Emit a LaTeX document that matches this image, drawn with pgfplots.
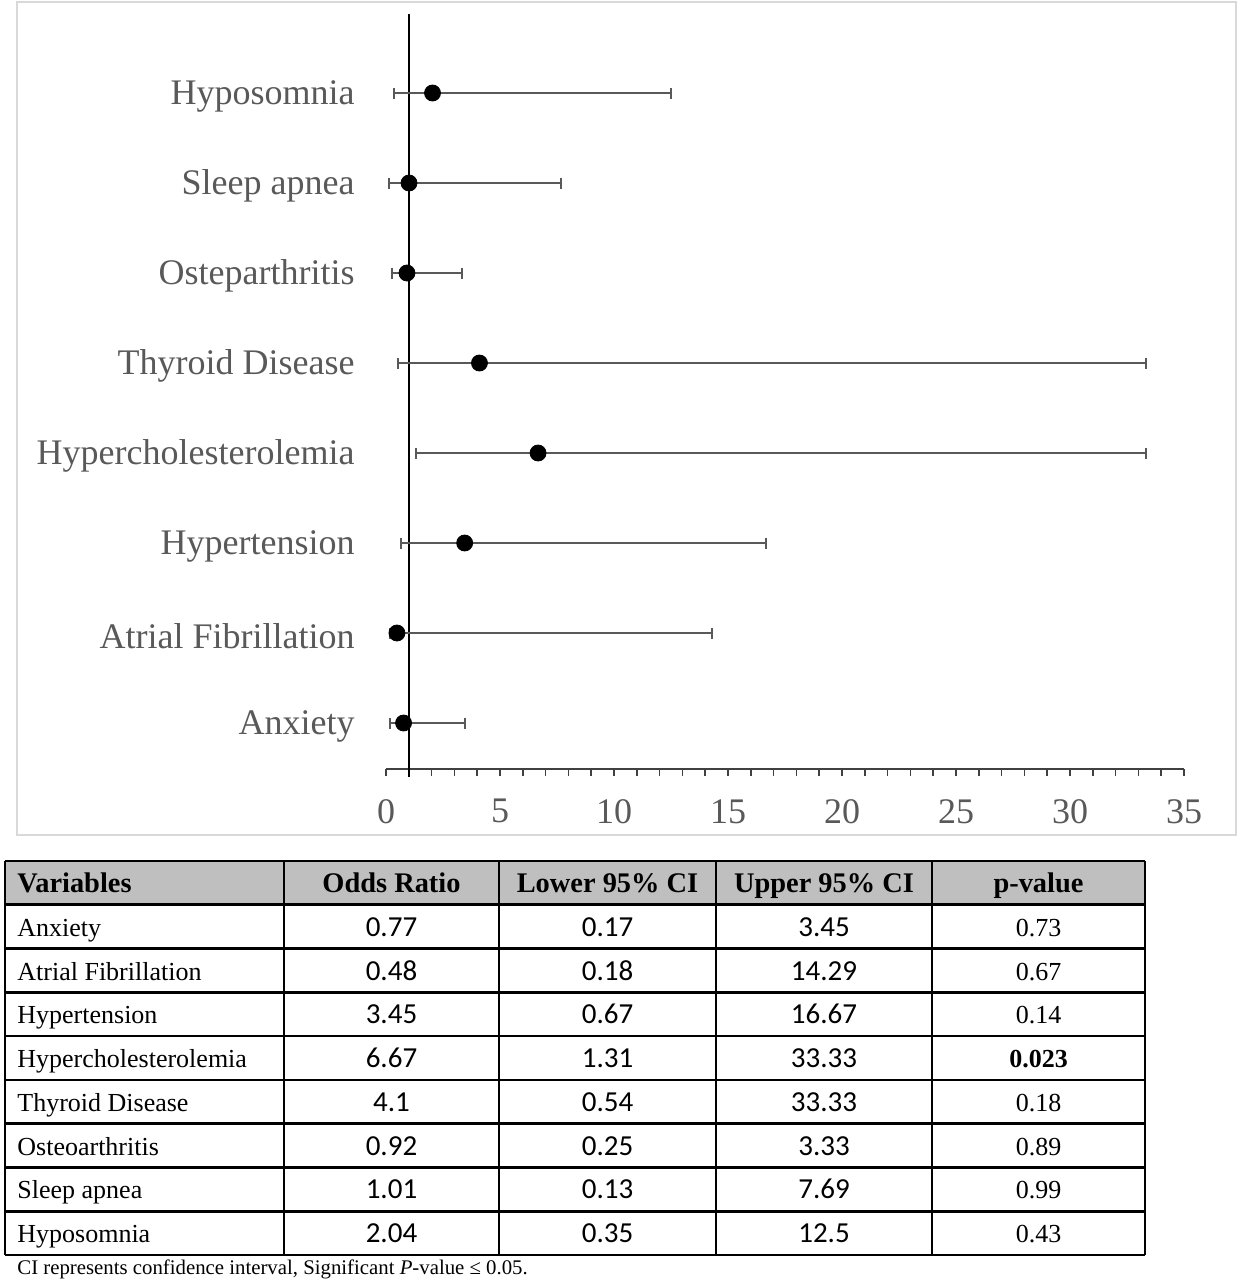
\documentclass[border=0pt]{standalone}
\usepackage{pgfplots}
\pgfplotsset{compat=1.18}
\usepackage{fontspec}
\setmainfont{Liberation Serif}
\newfontfamily\calibri{Carlito}
\definecolor{txtgray}{HTML}{595959}
\definecolor{framegray}{HTML}{D9D9D9}
\definecolor{hdrgray}{HTML}{BFBFBF}
\begin{document}
\begin{tikzpicture}
\useasboundingbox (0,0) rectangle (619pt,640pt);
\draw[framegray, line width=1pt] (8.5pt,222.5pt) rectangle (618pt,639pt);
\begin{axis}[
  at={(193pt,255.5pt)}, anchor=south west,
  scale only axis, width=399pt, height=377.5pt,
  xmin=0, xmax=35, ymin=0.489, ymax=8.878,
  clip=false,
  axis x line*=bottom, axis y line*=left,
  y axis line style={draw=none},
  x axis line style={black!75, line width=0.8pt},
  xtick={0,5,...,35}, minor x tick num=4,
  tick align=outside,
  major tick length=3.5pt, minor tick length=3.5pt,
  xtick style={black!75, line width=0.8pt},
  minor x tick style={black!75, line width=0.8pt},
  ytick={1,...,8},
  yticklabels={Anxiety, Atrial Fibrillation, Hypertension, Hypercholesterolemia, Thyroid Disease, Osteparthritis, Sleep apnea, Hyposomnia},
  ytick style={draw=none},
  /pgf/number format/assume math mode=true,
  ticklabel style={font=\fontsize{18}{20}\selectfont, text=txtgray, inner sep=0pt},
  yticklabel style={yshift=-1.5pt},
  xticklabel shift=11.5pt,
  yticklabel shift=12pt,
]
\addplot[black, line width=0.8pt, no marks] coordinates {(1,0.4) (1,8.878)};
\addplot[only marks, mark=*, mark size=4pt, black,
  error bars/.cd, x dir=both, x explicit,
  error bar style={txtgray, line width=1pt},
  error mark=|,
  error mark options={txtgray, line width=1pt, mark size=2.75pt}]
  coordinates {
  (0.77,1) -= (0.60,0) += (2.68,0)
  (0.48,2) -= (0.30,0) += (13.81,0)
  (3.45,3) -= (2.78,0) += (13.22,0)
  (6.67,4) -= (5.36,0) += (26.66,0)
  (4.1,5) -= (3.56,0) += (29.23,0)
  (0.92,6) -= (0.67,0) += (2.41,0)
  (1.01,7) -= (0.88,0) += (6.68,0)
  (2.04,8) -= (1.69,0) += (10.46,0)
  };
\end{axis}
% table
\begin{scope}[x=1pt, y=1pt]
\fill[hdrgray] (2.5,187.61) rectangle (572.5,209.5);
\foreach \k in {0,...,9} {
  \draw[black, line width=1.3pt] (2.5,{209.5-\k*21.89}) -- (572.5,{209.5-\k*21.89});
}
\foreach \cx in {2.5,142,249.5,358,466,572.5} {
  \draw[black, line width=1.3pt] (\cx,209.5) -- (\cx,12.5);
}
\begin{scope}[every node/.style={inner sep=0pt, anchor=base}]
\node[anchor=base west] at (8.5,193.75) {\fontsize{14.2}{16}\selectfont\bfseries Variables};
\node at (195.75,193.75) {\fontsize{14.2}{16}\selectfont\bfseries Odds Ratio};
\node at (303.75,193.75) {\fontsize{14.2}{16}\selectfont\bfseries Lower 95\% CI};
\node at (412,193.75) {\fontsize{14.2}{16}\selectfont\bfseries Upper 95\% CI};
\node at (519.25,193.75) {\fontsize{14.2}{16}\selectfont\bfseries p-value};
\foreach \nm/\a/\b/\c/\p [count=\i] in {Anxiety/0.77/0.17/3.45/0.73, Atrial Fibrillation/0.48/0.18/14.29/0.67, Hypertension/3.45/0.67/16.67/0.14, Hypercholesterolemia/6.67/1.31/33.33/{\bfseries 0.023}, Thyroid Disease/4.1/0.54/33.33/0.18, Osteoarthritis/0.92/0.25/3.33/0.89, Sleep apnea/1.01/0.13/7.69/0.99, Hyposomnia/2.04/0.35/12.5/0.43} {
  \pgfmathsetmacro{\yb}{209.5-(\i+0.5)*21.89-4.8}
  \node[anchor=base west] at (8.5,\yb) {\fontsize{13}{15}\selectfont \nm};
  \node at (195.75,\yb) {\calibri\fontsize{14.5}{16}\selectfont \a};
  \node at (303.75,\yb) {\calibri\fontsize{14.5}{16}\selectfont \b};
  \node at (412,\yb) {\calibri\fontsize{14.5}{16}\selectfont \c};
  \node at (519.25,\yb) {\fontsize{13}{15}\selectfont \p};
}
\node[anchor=base west] at (8.5,2.5) {\fontsize{10.4}{12}\selectfont CI represents confidence interval, Significant \textit{P}-value ≤ 0.05.};
\end{scope}
\end{scope}
\end{tikzpicture}
\end{document}
